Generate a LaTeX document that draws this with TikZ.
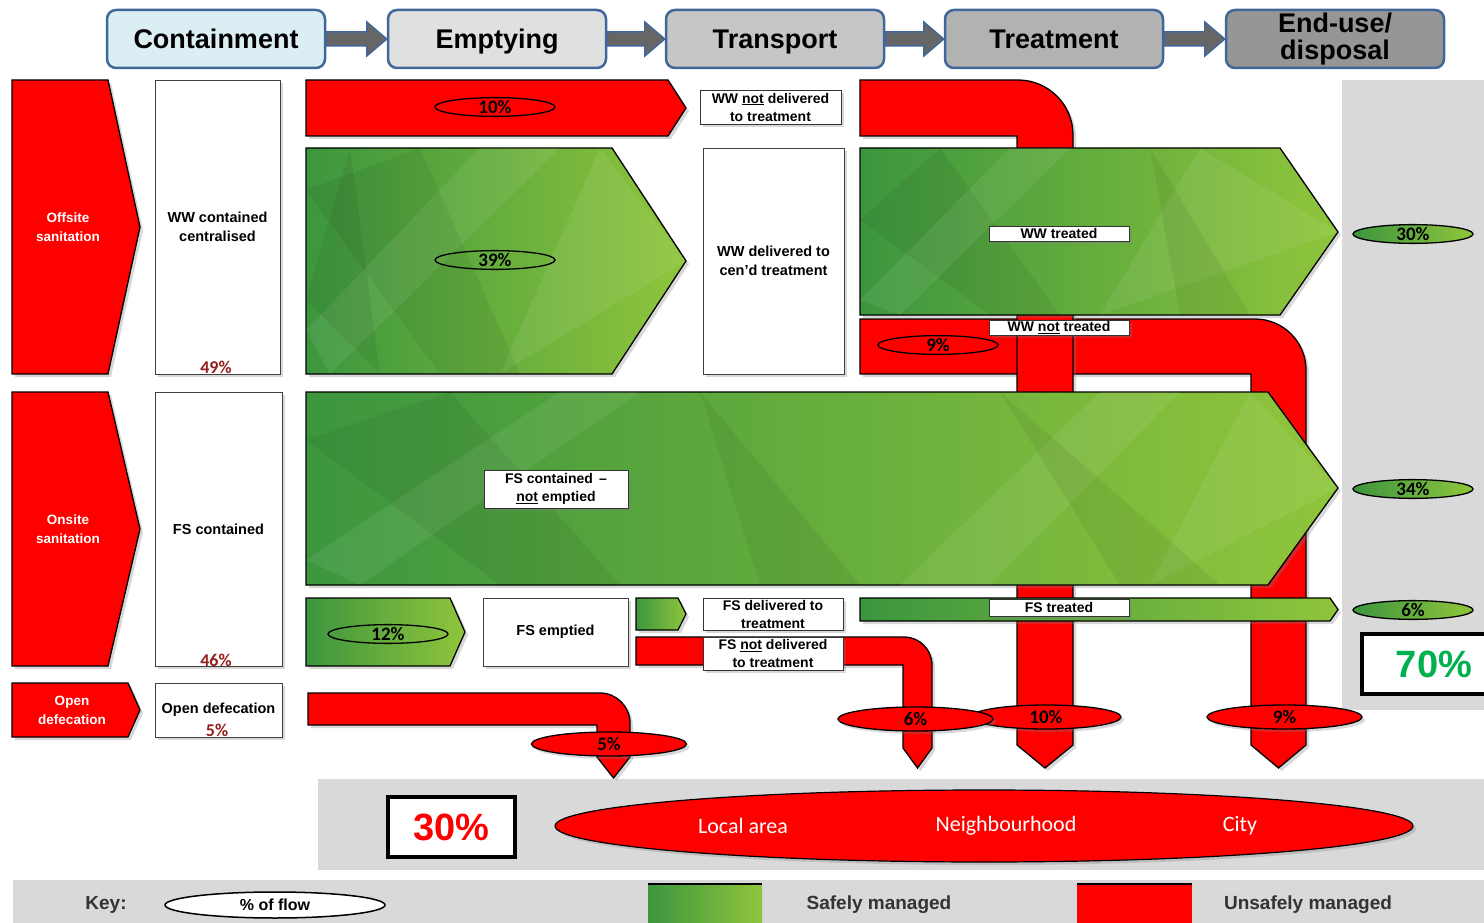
\documentclass[tikz,border=0pt]{standalone}
\usepackage{fontspec}
\setmainfont{Liberation Sans}
\newfontfamily\calib{Carlito}
\usetikzlibrary{shapes.geometric,shadows}
\definecolor{sred}{RGB}{255,0,0}
\definecolor{gA}{RGB}{60,150,62}
\definecolor{gB}{RGB}{144,197,60}
\definecolor{hdrline}{RGB}{65,103,154}
\definecolor{pctred}{RGB}{150,30,30}
\definecolor{bgray}{RGB}{217,217,217}
\definecolor{okgreen}{RGB}{0,176,80}
\definecolor{hdrA}{RGB}{219,238,244}
\definecolor{hdrB}{RGB}{224,224,224}
\definecolor{hdrC}{RGB}{198,198,198}
\definecolor{hdrD}{RGB}{178,178,178}
\definecolor{hdrE}{RGB}{150,150,150}
\newcommand{\hdrarr}[2]{\draw[hdrarrow] ([yshift=7pt]#1.east) -- ([xshift=-20pt,yshift=7pt]#2.west) -- ([xshift=-20pt,yshift=17pt]#2.west) -- (#2.west) -- ([xshift=-20pt,yshift=-17pt]#2.west) -- ([xshift=-20pt,yshift=-7pt]#2.west) -- ([yshift=-7pt]#1.east) -- cycle;}
\begin{document}
\begin{tikzpicture}[x=1pt,y=-1pt,
  hdr/.style={draw=hdrline, line width=2.5pt, rounded corners=9pt, minimum width=218pt, minimum height=58pt, inner sep=0pt, font=\fontsize{27}{29}\selectfont\bfseries, align=center},
  hdrone/.style={hdr, text height=20pt, text depth=1.5pt},
  hdrarrow/.style={fill=black!60, draw=hdrline, line width=1.5pt, line join=miter},
  shd/.style={drop shadow={opacity=0.3, shadow xshift=3pt, shadow yshift=-3pt}},
  redflow/.style={fill=sred, draw=black, line width=1.3pt, line join=miter, shd},
  greenflow/.style={left color=gA, right color=gB, draw=black, line width=1.3pt, shd},
  facet/.style={fill=white, opacity=0.07},
  facetd/.style={fill=black, opacity=0.06},
  wbox/.style={draw=black!75, fill=white, line width=0.8pt, shd, inner sep=1pt, align=center, font=\fontsize{14.5}{19}\selectfont\bfseries},
  tag/.style={draw=black!80, fill=white, line width=0.8pt, shd, inner sep=0pt, align=center, font=\fontsize{14}{18}\selectfont\bfseries},
  srctext/.style={text=white, align=center, font=\fontsize{13.5}{19}\selectfont\bfseries},
  pct/.style={ellipse, draw=black, line width=1.3pt, inner sep=0pt, minimum width=120pt, minimum height=18pt, font=\calib\fontsize{19}{19}\selectfont\bfseries},
  redpct/.style={pct, fill=sred, minimum width=155pt, minimum height=24pt, font=\calib\fontsize{19}{19}\selectfont\bfseries, shd},
  gpct/.style={pct, left color=gA, right color=gB, minimum height=16pt},
  boxpct/.style={text=pctred, font=\calib\fontsize{18}{18}\selectfont\bfseries, inner sep=0pt},
]
\useasboundingbox (0,0) rectangle (1484,923);
\fill[white] (0,0) rectangle (1484,923);

% grey backgrounds
\fill[bgray] (1342,80) rectangle (1484,710);
\fill[bgray] (318,779) rectangle (1484,870);
\fill[bgray] (13,880) rectangle (1484,923);

% headers
\node[hdrone, fill=hdrA] (h1) at (216,39) {Containment};
\node[hdrone, fill=hdrB] (h2) at (497,39) {Emptying};
\node[hdrone, fill=hdrC] (h3) at (775,39) {Transport};
\node[hdrone, fill=hdrD] (h4) at (1054,39) {Treatment};
\node[hdr, fill=hdrE] (h5) at (1335,39) {End-use/\\[-2pt]disposal};
\hdrarr{h1}{h2}
\hdrarr{h2}{h3}
\hdrarr{h3}{h4}
\hdrarr{h4}{h5}

% source pentagons
\path[redflow] (12,80) -- (108,80) -- (140,227) -- (108,374) -- (12,374) -- cycle;
\path[redflow] (12,392) -- (108,392) -- (140,529) -- (108,666) -- (12,666) -- cycle;
\path[redflow] (12,683) -- (128,683) -- (140,710) -- (128,737) -- (12,737) -- cycle;
\node[srctext] (s1) at (68,227) {Offsite\\sanitation};
\node[srctext] (s2) at (68,529) {Onsite\\sanitation};
\node[srctext] (s3) at (72,710) {Open\\defecation};

% containment boxes
\node[wbox, minimum width=125pt, minimum height=294pt] (c1) at (217.5,227) {WW contained\\centralised};
\node[wbox, minimum width=127pt, minimum height=274pt] (c2) at (218.5,529) {FS contained};
\node[wbox, minimum width=127pt, minimum height=54pt] (c3) at (218.5,710) {Open defecation};
\node[boxpct] (c1p) at (216,367) {49\%};
\node[boxpct] (c2p) at (216,660) {46\%};
\node[boxpct] (c3p) at (217,730) {5\%};

% red unsafe flows (behind)
\path[redflow] (860,319) -- (1255,319) .. controls (1283.2,319) and (1306,341.8) .. (1306,370) -- (1306,745) -- (1278.5,768) -- (1251,745) -- (1251,374) -- (860,374) -- cycle;
\path[redflow] (860,80) -- (1018,80) .. controls (1048.4,80) and (1073,104.6) .. (1073,135) -- (1073,745) -- (1045,768) -- (1017,745) -- (1017,136) -- (860,136) -- cycle;
\path[redflow] (636,637) -- (904,637) .. controls (919.5,637) and (932,649.5) .. (932,665) -- (932,748) -- (917.5,768) -- (903,748) -- (903,665) -- (636,665) -- cycle;
\path[redflow] (308,693) -- (600,693) .. controls (616.5,693) and (630,706.5) .. (630,723) -- (630,757) -- (613.5,778) -- (597,757) -- (597,725) -- (308,725) -- cycle;
\path[redflow] (306,80) -- (668,80) -- (686,108) -- (668,136) -- (306,136) -- cycle;

% green safe flows
\path[greenflow] (306,148) -- (612,148) -- (686,261) -- (612,374) -- (306,374) -- cycle;
\begin{scope}
\clip (306,148) -- (612,148) -- (686,261) -- (612,374) -- (306,374) -- cycle;
\fill[facetd] (306,190) -- (420,148) -- (520,374) -- (440,374) -- cycle;
\fill[facet] (306,330) -- (480,148) -- (560,148) -- (330,374) -- cycle;
\fill[facet] (500,374) -- (600,148) -- (686,261) -- cycle;
\fill[facetd] (350,148) -- (380,374) -- (306,300) -- cycle;
\end{scope}
\path[greenflow] (860,148) -- (1280,148) -- (1338,232) -- (1280,315) -- (860,315) -- cycle;
\begin{scope}
\clip (860,148) -- (1280,148) -- (1338,232) -- (1280,315) -- (860,315) -- cycle;
\fill[facetd] (860,220) -- (940,148) -- (1060,315) -- (990,315) -- cycle;
\fill[facet] (860,300) -- (1010,148) -- (1070,148) -- (900,315) -- cycle;
\fill[facet] (1100,315) -- (1200,148) -- (1338,232) -- cycle;
\fill[facetd] (1150,148) -- (1250,315) -- (1180,315) -- cycle;
\end{scope}
\path[greenflow] (306,392) -- (1268,392) -- (1338,488) -- (1268,585) -- (306,585) -- cycle;
\begin{scope}
\clip (306,392) -- (1268,392) -- (1338,488) -- (1268,585) -- (306,585) -- cycle;
\fill[facetd] (306,440) -- (450,392) -- (620,585) -- (500,585) -- cycle;
\fill[facet] (306,560) -- (560,392) -- (640,392) -- (360,585) -- cycle;
\fill[facetd] (700,392) -- (860,585) -- (760,585) -- cycle;
\fill[facet] (900,585) -- (1100,392) -- (1180,392) -- (990,585) -- cycle;
\fill[facet] (1150,585) -- (1250,392) -- (1338,488) -- cycle;
\fill[facetd] (1000,392) -- (1220,585) -- (1120,585) -- cycle;
\end{scope}
\path[greenflow] (306,598) -- (450,598) -- (465,632) -- (450,666) -- (306,666) -- cycle;
\path[greenflow] (636,598) -- (678,598) -- (686,614) -- (678,630) -- (636,630) -- cycle;
\path[greenflow] (860,598) -- (1330,598) -- (1338,609.5) -- (1330,621) -- (860,621) -- cycle;

% text boxes
\node[wbox, minimum width=145pt, minimum height=68pt] (e1) at (555.5,632) {FS emptied};
\node[tag, minimum width=144pt, minimum height=38pt] (e2) at (556,489) {FS contained \,--\\\underline{not} emptied};
\node[tag, minimum width=141pt, minimum height=34pt] (t1) at (770.5,107) {WW \underline{not} delivered\\to treatment};
\node[wbox, minimum width=141pt, minimum height=226pt] (t2) at (773.5,261) {WW delivered to\\cen'd treatment};
\node[tag, minimum width=140pt, minimum height=32pt] (t3) at (773,614) {FS delivered to\\treatment};
\node[tag, minimum width=140pt, minimum height=33pt] (t4) at (773,653.5) {FS \underline{not} delivered\\to treatment};
\node[tag, minimum width=140pt, minimum height=15pt] (r1) at (1059,233.5) {WW treated};
\node[tag, minimum width=140pt, minimum height=15pt] (r2) at (1059,327.5) {WW \underline{not} treated};
\node[tag, minimum width=140pt, minimum height=17pt] (r3) at (1059,607.5) {FS treated};

% percentage ellipses
\node[pct] (p10) at (495,107) {10\%};
\node[pct] (p39) at (495,260) {39\%};
\node[pct] (p12) at (388,634) {12\%};
\node[pct] (p9a) at (938,345) {9\%};
\node[redpct] (p5) at (609,744) {5\%};
\node[redpct, minimum width=150pt] (p10b) at (1046,717) {10\%};
\node[redpct] (p6) at (915.5,719) {6\%};
\node[redpct] (p9b) at (1284.5,717) {9\%};
\node[gpct] (g30) at (1413,234) {30\%};
\node[gpct] (g34) at (1413,489) {34\%};
\node[gpct] (g6) at (1413,610) {6\%};

% totals
\node[draw=black, line width=4pt, fill=white, minimum width=134pt, minimum height=60pt, inner sep=0pt, text=okgreen, font=\fontsize{38}{38}\selectfont\bfseries] (tot70) at (1429,664) {\hspace*{10pt}70\%};
\node[draw=black, line width=4pt, fill=white, minimum width=127pt, minimum height=60pt, inner sep=0pt, text=sred, font=\fontsize{38}{38}\selectfont\bfseries] (tot30) at (451.5,827) {30\%};

% destination ellipse
\node[ellipse, fill=sred, draw=black, line width=1.2pt, minimum width=858pt, minimum height=72pt, inner sep=0pt, shd] (dest) at (984,826) {};
\node[text=white, font=\calib\fontsize{22}{22}\selectfont] (d1) at (743,826) {Local area};
\node[text=white, font=\calib\fontsize{22}{22}\selectfont] (d2) at (1006,826) {Neighbourhood};
\node[text=white, font=\calib\fontsize{22}{22}\selectfont] (d3) at (1240,826) {City};

% key
\node[font=\fontsize{19}{19}\selectfont\bfseries, text=black!80] (k0) at (106,905) {Key:};
\node[ellipse, draw=black, line width=1.5pt, fill=white, minimum width=220pt, minimum height=26pt, inner sep=0pt, font=\fontsize{16}{16}\selectfont\bfseries] (k1) at (275,905) {\% of flow};
\path[left color=gA, right color=gB] (648,884) rectangle (762,923);
\draw[line width=1.5pt] (648,884) -- (762,884);
\node[font=\fontsize{19}{19}\selectfont\bfseries, text=black!80] (k2) at (879,905) {Safely managed};
\fill[sred] (1077,884) rectangle (1192,923);
\draw[line width=1.5pt] (1077,884) -- (1192,884);
\node[font=\fontsize{19}{19}\selectfont\bfseries, text=black!80] (k3) at (1308,905) {Unsafely managed};
\end{tikzpicture}
\end{document}
